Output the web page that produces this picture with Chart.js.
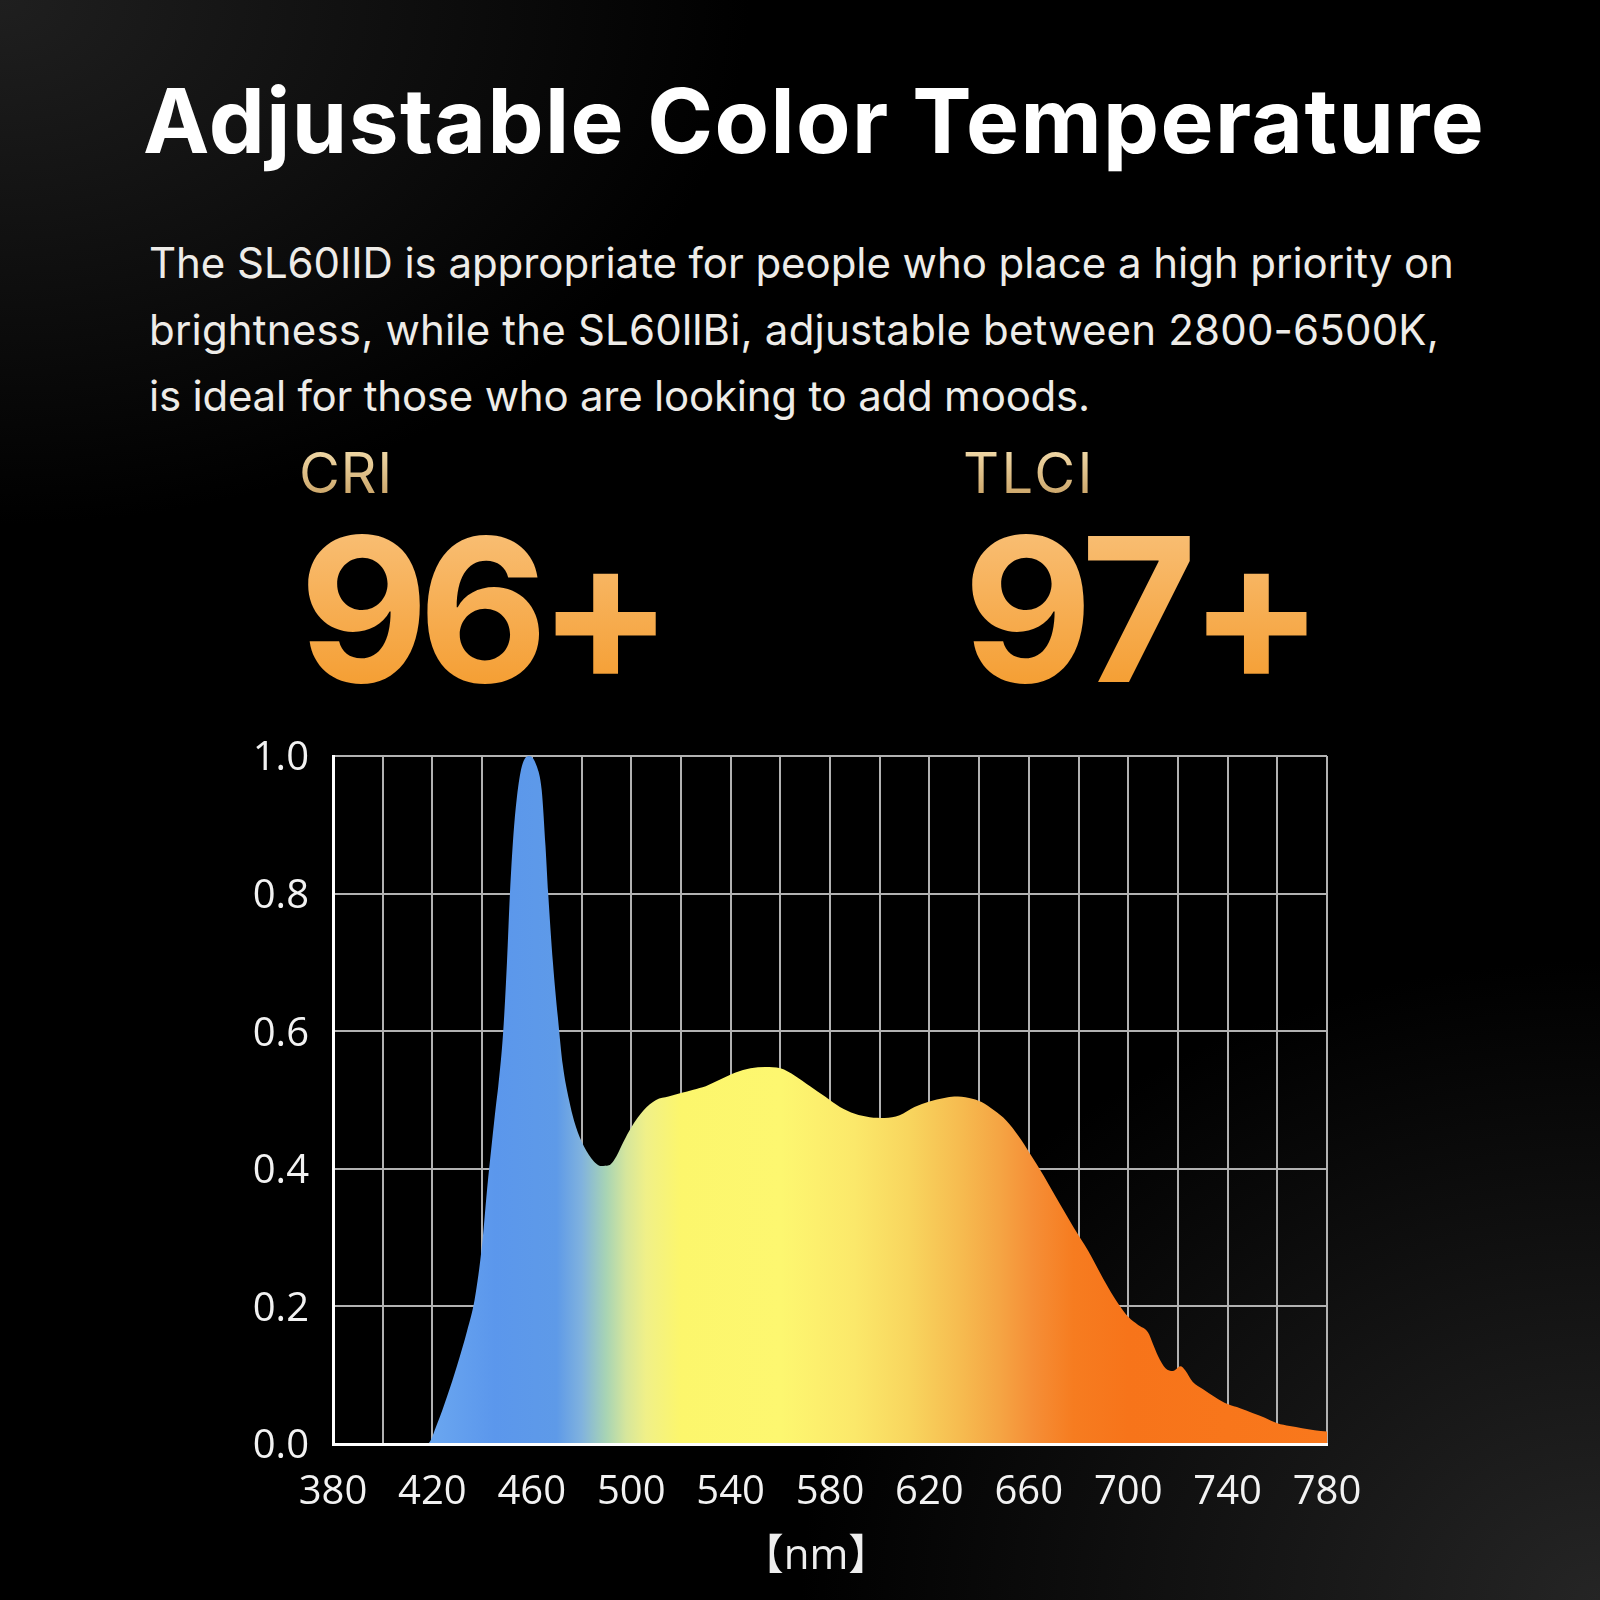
<!DOCTYPE html>
<html>
<head>
<meta charset="utf-8">
<script src="https://cdn.jsdelivr.net/npm/chart.js@4.4.1/dist/chart.umd.min.js"></script>
<style>
  html, body { margin: 0; padding: 0; }
  body {
    width: 1600px; height: 1600px; position: relative; overflow: hidden;
    background:
      radial-gradient(ellipse 1000px 700px at 0% 0%, #1f1f1f 0%, rgba(0,0,0,0) 75%),
      radial-gradient(ellipse 1000px 800px at 100% 100%, #252525 0%, rgba(0,0,0,0) 80%),
      #000;
    font-family: Inter, "Noto Sans", sans-serif;
  }
  .t { position: absolute; white-space: nowrap; line-height: 1; }
  #title { left: 143px; top: 76px; font-size: 89px; font-weight: 700; color: #fff; }
  .line { left: 149px; font-size: 42px; font-weight: 400; color: #eeece8; }
  .lab {
    font-size: 56px; font-weight: 400;
    background: linear-gradient(#f4deae, #c8a062);
    -webkit-background-clip: text; background-clip: text; color: transparent;
  }
  .big {
    font-size: 200px; font-weight: 700;
    background: linear-gradient(#f9c27c, #f49a2a);
    -webkit-background-clip: text; background-clip: text; color: transparent;
  }
  #wrap { position: absolute; left: 0; top: 700px; width: 1600px; height: 900px; }
</style>
</head>
<body>
<div class="t" id="title" data-w="1342">Adjustable Color Temperature</div>
<div class="t line" style="top:242px" data-w="1305">The SL60IID is appropriate for people who place a high priority on</div>
<div class="t line" style="top:309px" data-w="1290">brightness, while the SL60llBi, adjustable between 2800-6500K,</div>
<div class="t line" style="top:375px" data-w="941">is ideal for those who are looking to add moods.</div>
<div class="t lab" style="left:299px;top:445px" data-w="94">CRI</div>
<div class="t lab" style="left:963px;top:445px" data-w="132">TLCI</div>
<div class="t big" style="left:299px;top:509px" data-w="364">96+</div>
<div class="t big" style="left:963px;top:509px" data-w="353">97+</div>
<div id="wrap"><canvas id="spectrumChart" width="1600" height="900"></canvas></div>

<script>
// spectrum
const wavelengths = [380, 400, 418, 422, 426, 430, 434, 437, 440, 442, 444, 445.5, 446.5, 448.5, 450, 451.2, 452.5, 454, 456, 459,
  462, 464, 465.5, 466.6, 468.5, 470.5, 472.5, 475, 477, 480, 484, 488, 491, 494, 497, 500, 505, 510, 515, 520, 525, 530, 536,
  542, 548, 554, 560, 566, 572, 578, 584, 590, 596, 602, 608, 614, 620, 626, 630, 636, 641, 646, 651, 656, 660.5, 666, 672,
  678, 684, 690, 696, 700, 704, 708, 710, 712, 715, 718, 721, 723, 726, 730, 735, 740, 745, 750, 755, 760, 765, 770, 775, 780];
const intensity = [0, 0, 0, 0.03, 0.07, 0.115, 0.165, 0.21, 0.29, 0.37, 0.44, 0.49, 0.52, 0.6, 0.7, 0.8, 0.88, 0.94, 0.985, 1.0,
  0.985, 0.95, 0.87, 0.8, 0.7, 0.62, 0.55, 0.5, 0.47, 0.44, 0.415, 0.404, 0.405, 0.418, 0.44, 0.46, 0.485, 0.5, 0.505, 0.51,
  0.515, 0.52, 0.53, 0.54, 0.546, 0.548, 0.546, 0.535, 0.52, 0.505, 0.49, 0.48, 0.475, 0.474, 0.478, 0.49, 0.498, 0.503, 0.505,
  0.503, 0.497, 0.485, 0.47, 0.447, 0.422, 0.39, 0.352, 0.315, 0.28, 0.24, 0.204, 0.185, 0.173, 0.162, 0.145, 0.128, 0.11,
  0.106, 0.113, 0.107, 0.09, 0.08, 0.068, 0.058, 0.052, 0.045, 0.038, 0.03, 0.026, 0.023, 0.02, 0.018];
const xTickLabels = [380, 420, 460, 500, 540, 580, 620, 660, 700, 740, 780];
const yTickLabels = [0, 0.2, 0.4, 0.6, 0.8, 1.0];

// colour of the fill along the wavelength axis
const spectrumStops = [
  [420, "#6aa6f0"], [445, "#5b97ec"], [470, "#5e9ae8"], [480, "#80b2de"], [490, "#a8d4b4"],
  [498, "#d6e69c"], [506, "#f0f088"], [520, "#fcf66c"], [560, "#fdf770"], [590, "#fbe86a"],
  [612, "#f8d55e"], [632, "#f6bc50"], [648, "#f5a544"], [662, "#f58e36"], [678, "#f67c20"],
  [700, "#f7741a"], [780, "#f9781c"]
];

function spectrumFill(context) {
  const chart = context.chart;
  if (!chart.chartArea) return "#f8d55e";
  const x = chart.scales.x;
  const x0 = x.getPixelForValue(380), x1 = x.getPixelForValue(780);
  const g = chart.ctx.createLinearGradient(x0, 0, x1, 0);
  spectrumStops.forEach(([nm, c]) => g.addColorStop((nm - 380) / 400, c));
  return g;
}

function initializeSpectrumChart() {
  const ctx = document.getElementById("spectrumChart");
  const tickFont = { family: "'Open Sans', 'DejaVu Sans', sans-serif", size: 40 };
  new Chart(ctx.getContext("2d"), {
    type: "line",
    data: {
      datasets: [{
        data: wavelengths.map((w, i) => ({ x: w, y: intensity[i] })),
        backgroundColor: spectrumFill,
        borderWidth: 0,
        pointRadius: 0,
        fill: "origin",
        cubicInterpolationMode: "monotone",
      }],
    },
    options: {
      responsive: false,
      animation: false,
      layout: { padding: { top: 56, left: 200, right: 273, bottom: 0 } },
      plugins: { legend: { display: false }, tooltip: { enabled: false } },
      scales: {
        x: {
          type: "linear", min: 380, max: 780,
          afterFit: (scale) => { scale.height = 156; },
          grid: { color: "#b2b2b2", lineWidth: 2, drawTicks: false },
          border: { color: "#ffffff", width: 3, z: 1 },
          ticks: {
            stepSize: 20, padding: 25, color: "#f2f2f2", font: tickFont,
            autoSkip: false, maxRotation: 0,
            callback: (v) => xTickLabels.includes(v) ? String(v) : "",
          },
          title: {
            display: true, text: "【nm】\u2002\u2009", color: "#eeeeee",
            font: { family: "'Open Sans', 'Noto Sans CJK SC', sans-serif", size: 42 },
            padding: { top: 0, bottom: 18 },
          },
        },
        y: {
          min: 0, max: 1,
          afterFit: (scale) => { scale.width = 133; },
          grid: { color: "#b2b2b2", lineWidth: 2, drawTicks: false },
          border: { color: "#ffffff", width: 3, z: 1 },
          ticks: {
            stepSize: 0.2, padding: 24, color: "#f2f2f2", font: tickFont, labelOffset: 3,
            callback: (v) => yTickLabels.some((t) => Math.abs(t - v) < 1e-6) ? v.toFixed(1) : "",
          },
        },
      },
    },
  });
}

// stretch each text line to the width it has in the picture
function fitLines() {
  document.querySelectorAll(".t[data-w]").forEach((el) => {
    const target = +el.dataset.w;
    const cur = el.getBoundingClientRect().width;
    const n = el.textContent.length;
    el.style.letterSpacing = ((target - cur) / n).toFixed(2) + "px";
  });
}

fitLines();
initializeSpectrumChart();
</script>
</body>
</html>
